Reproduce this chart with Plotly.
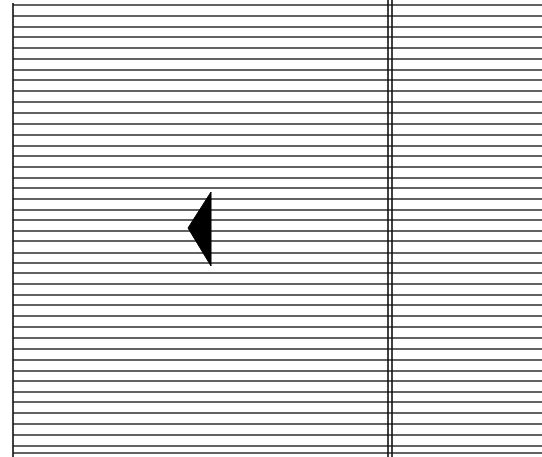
import plotly.graph_objects as go

# ruled rows (y position of each horizontal rule, image pixels from top)
row_y = [5, 16, 27, 37, 48, 59, 70, 80, 91, 102, 113, 124, 135, 146,
         156, 167, 178, 188, 199, 210, 220, 231, 241, 253, 263, 273, 284, 295,
         305, 316, 327, 338, 349, 360, 371, 381, 392, 402, 413, 424, 435, 446,
         453]
row_x_start = 13
row_x_end = 542

# vertical rules
col_x = [13, 388, 392]
col_y_top = [3, 0, 0]
col_y_bottom = [457, 457, 457]

# arrow marker (left-pointing triangle)
tri_x = [211, 188, 211, 211]
tri_y = [192, 228, 266, 192]

fig = go.Figure()

# horizontal rules
hx, hy = [], []
for y in row_y:
    hx += [row_x_start, row_x_end, None]
    hy += [y, y, None]
fig.add_trace(go.Scatter(x=hx, y=hy, mode="lines",
                         line=dict(color="#2e2e2e", width=1.4),
                         hoverinfo="skip", showlegend=False))

# vertical rules
vx, vy = [], []
for x, y0, y1 in zip(col_x, col_y_top, col_y_bottom):
    vx += [x, x, None]
    vy += [y0, y1, None]
fig.add_trace(go.Scatter(x=vx, y=vy, mode="lines",
                         line=dict(color="#111111", width=1.6),
                         hoverinfo="skip", showlegend=False))

# triangle
fig.add_trace(go.Scatter(x=tri_x, y=tri_y, mode="lines", fill="toself",
                         fillcolor="black", line=dict(color="black", width=1),
                         hoverinfo="skip", showlegend=False))

fig.update_layout(
    width=542, height=457,
    margin=dict(l=0, r=0, t=0, b=0),
    paper_bgcolor="white", plot_bgcolor="white",
)
fig.update_xaxes(range=[0, 542], visible=False, fixedrange=True)
fig.update_yaxes(range=[457, 0], visible=False, fixedrange=True)

fig.write_html("out.html", config={"displayModeBar": False},
               post_script="document.body.style.margin='0';")
